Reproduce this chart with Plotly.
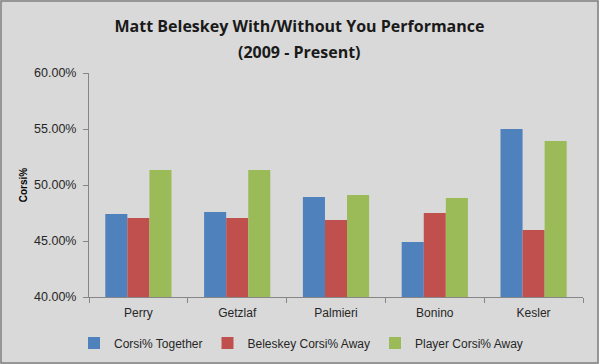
import plotly.graph_objects as go

players = ["Perry", "Getzlaf", "Palmieri", "Bonino", "Kesler"]
together = [47.41, 47.59, 48.93, 44.92, 55.00]
beleskey_away = [47.05, 47.05, 46.88, 47.50, 45.98]
player_away = [51.34, 51.34, 49.10, 48.84, 53.93]
series_names = ["Corsi% Together", "Beleskey Corsi% Away", "Player Corsi% Away"]
tick_vals = [40, 45, 50, 55, 60]
tick_text = ["40.00%", "45.00%", "50.00%", "55.00%", "60.00%"]

colors = ["#4F81BD", "#C0504D", "#9BBB59"]
W, H = 599, 364
L, R, T, B = 89, 16, 73, 67
pw, ph = W - L - R, H - T - B

fig = go.Figure()
for name, vals, c in zip(series_names, [together, beleskey_away, player_away], colors):
    fig.add_trace(go.Bar(x=players, y=vals, name=name, marker=dict(color=c, line=dict(width=0))))

def px(x):
    return (x - L) / pw
def py(y):
    return (H - B - y) / ph

fig.update_layout(
    width=W, height=H,
    margin=dict(l=L, r=R, t=T, b=B, autoexpand=False),
    paper_bgcolor="#D9D9D9", plot_bgcolor="#D9D9D9",
    barmode="group", bargap=0.33, bargroupgap=0,
    font=dict(family="Liberation Sans, Arial", size=12, color="#262626"),
    title=dict(text="<b>Matt Beleskey With/Without You Performance</b>",
               x=0.5, xanchor="center", xref="container", y=1 - 26 / H, yanchor="middle",
               font=dict(family="Open Sans", size=16, color="#1a1a1a")),
    annotations=[dict(text="<b>(2009 - Present)</b>", xref="paper", yref="paper",
                      x=px(299.5), y=py(52), xanchor="center", yanchor="middle", showarrow=False,
                      font=dict(family="Open Sans", size=16, color="#1a1a1a"))],
    xaxis=dict(showline=True, linecolor="#868686", linewidth=1, ticks="outside",
               tickson="boundaries", ticklen=5, tickcolor="#868686", showgrid=False,
               ticklabelstandoff=5,
               tickfont=dict(size=12, color="#262626"), fixedrange=True),
    yaxis=dict(range=[40, 60], tickvals=tick_vals, ticktext=tick_text,
               showline=True, linecolor="#868686", linewidth=1, ticks="outside",
               ticklen=5, tickcolor="#868686", showgrid=False, zeroline=False,
               ticklabelstandoff=4,
               tickfont=dict(size=12.5, color="#262626"),
               title=dict(text="<b>Corsi%</b>", font=dict(size=10, color="#000000"), standoff=4)),
    legend=dict(orientation="h", x=px(74), xanchor="left", y=py(343), yanchor="middle",
                font=dict(size=12, color="#262626"), bgcolor="rgba(0,0,0,0)",
                traceorder="normal", itemwidth=30),
    showlegend=True,
    shapes=[dict(type="rect", xref="paper", yref="paper",
                 x0=px(1), x1=px(W - 1), y0=py(H - 1), y1=py(1),
                 line=dict(color="#808080", width=1.5), fillcolor="rgba(0,0,0,0)", layer="below")],
)

fig.write_html("out.html",
               config={"displayModeBar": False},
               post_script="document.body.style.margin='0';document.body.style.background='#D9D9D9';document.body.style.overflow='hidden';")
